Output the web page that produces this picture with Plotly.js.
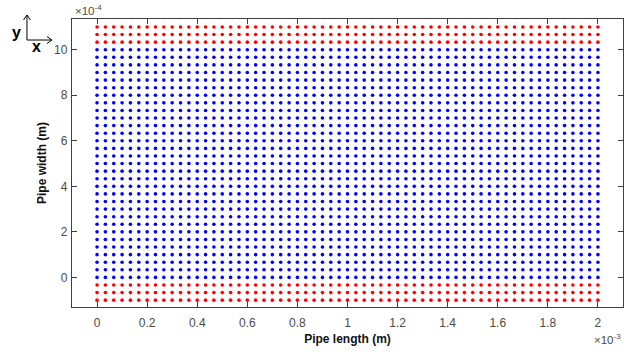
<!DOCTYPE html>
<html>
<head>
<meta charset="utf-8">
<script src="https://cdn.plot.ly/plotly-3.0.1.min.js"></script>
<style>html,body{margin:0;padding:0;background:#fff;}#chart{width:630px;height:352px;}</style>
</head>
<body>
<div id="chart"></div>
<script>
// Particle column positions along the pipe (micrometres)
const xColumnsUm = [0,33.3,66.7,100,133.3,166.7,200,233.3,266.7,300,333.3,366.7,400,433.3,466.7,500,533.3,566.7,600,633.3,666.7,700,733.3,766.7,800,833.3,866.7,900,933.3,966.7,1000,1033.3,1066.7,1100,1133.3,1166.7,1200,1233.3,1266.7,1300,1333.3,1366.7,1400,1433.3,1466.7,1500,1533.3,1566.7,1600,1633.3,1666.7,1700,1733.3,1766.7,1800,1833.3,1866.7,1900,1933.3,1966.7,2000];
// Fluid particle rows across the pipe (micrometres)
const fluidRowsUm = [0,33.3,66.7,100,133.3,166.7,200,233.3,266.7,300,333.3,366.7,400,433.3,466.7,500,533.3,566.7,600,633.3,666.7,700,733.3,766.7,800,833.3,866.7,900,933.3,966.7,1000];
// Wall (boundary) particle rows (micrometres)
const wallRowsUm = [-100,-66.7,-33.3,1033.3,1066.7,1100];
// Tick labels
const xTickVals = [0,0.2,0.4,0.6,0.8,1,1.2,1.4,1.6,1.8,2];
const xTickText = ["0","0.2","0.4","0.6","0.8","1","1.2","1.4","1.6","1.8","2"];
const yTickVals = [0,2,4,6,8,10];
const yTickText = ["0","2","4","6","8","10"];

function grid(cols, rows){
  const xs=[], ys=[];
  rows.forEach(r=>cols.forEach(c=>{xs.push(c*1e-6); ys.push(r*1e-6);}));
  return {xs, ys};
}
const fluid = grid(xColumnsUm, fluidRowsUm);
const wall = grid(xColumnsUm, wallRowsUm);

const mk = (pts, color) => ({
  type:'scatter', mode:'markers', x:pts.xs, y:pts.ys,
  marker:{color:color, size:3.6, symbol:'circle', line:{width:0}},
  hoverinfo:'skip', showlegend:false
});

const FONT = 'Liberation Sans, Arial, Helvetica, sans-serif';
const axisCol = '#404040';
const tickCol = '#4a4a4a';
const layout = {
  width:630, height:352,
  margin:{l:72, r:7, t:19, b:45},
  paper_bgcolor:'#fff', plot_bgcolor:'#fff',
  font:{family:FONT, size:12, color:tickCol},
  showlegend:false,
  xaxis:{
    range:[-1e-4, 2.1e-3], showgrid:false, zeroline:false,
    showline:true, linecolor:axisCol, linewidth:1.2, mirror:'ticks',
    ticks:'inside', ticklen:5, tickcolor:axisCol, tickwidth:1,
    tickvals:xTickVals.map(v=>v*1e-3), ticktext:xTickText,
    ticklabelstandoff:4,
    tickfont:{family:FONT, size:12, color:tickCol},
    title:{text:'<b>Pipe length (m)</b>', font:{family:FONT, size:12, color:'#111'}, standoff:6}
  },
  yaxis:{
    range:[-1.3e-4, 1.135e-3], showgrid:false, zeroline:false,
    showline:true, linecolor:axisCol, linewidth:1.2, mirror:'ticks',
    ticks:'inside', ticklen:5, tickcolor:axisCol, tickwidth:1,
    tickvals:yTickVals.map(v=>v*1e-4), ticktext:yTickText,
    ticklabelstandoff:1,
    tickfont:{family:FONT, size:12, color:tickCol},
    title:{text:'<b>Pipe width (m)</b>', font:{family:FONT, size:12, color:'#111'}, standoff:4}
  },
  annotations:[
    {xref:'paper', yref:'paper', x:0.002, y:1.0, xanchor:'left', yanchor:'bottom', showarrow:false,
     text:'×10<sup>-4</sup>', font:{family:FONT, size:11.5, color:tickCol}},
    {xref:'paper', yref:'paper', x:1.0, y:0, xanchor:'right', yanchor:'top', showarrow:false,
     text:'×10<sup>-3</sup>', font:{family:FONT, size:11.5, color:tickCol}, yshift:-23},
    {xref:'paper', yref:'paper', x:-0.1016, y:0.953, xanchor:'center', yanchor:'middle', showarrow:false,
     text:'<b>y</b>', font:{family:FONT, size:16, color:'#000'}},
    {xref:'paper', yref:'paper', x:-0.0653, y:0.906, xanchor:'center', yanchor:'middle', showarrow:false,
     text:'<b>x</b>', font:{family:FONT, size:16, color:'#000'}}
  ],
  shapes:[
    {type:'path', xref:'paper', yref:'paper', xsizemode:'pixel', ysizemode:'pixel',
     xanchor:-0.0817, yanchor:0.927,
     path:'M0,0 L0,25 M-3.5,20 L0,25 L3.5,20 M0,0 L25,0 M20,3.5 L25,0 L20,-3.5',
     line:{color:'#000', width:1}}
  ]
};

Plotly.newPlot('chart', [mk(fluid,'#0000ff'), mk(wall,'#ff0000')], layout, {displayModeBar:false, staticPlot:true});
</script>
</body>
</html>
